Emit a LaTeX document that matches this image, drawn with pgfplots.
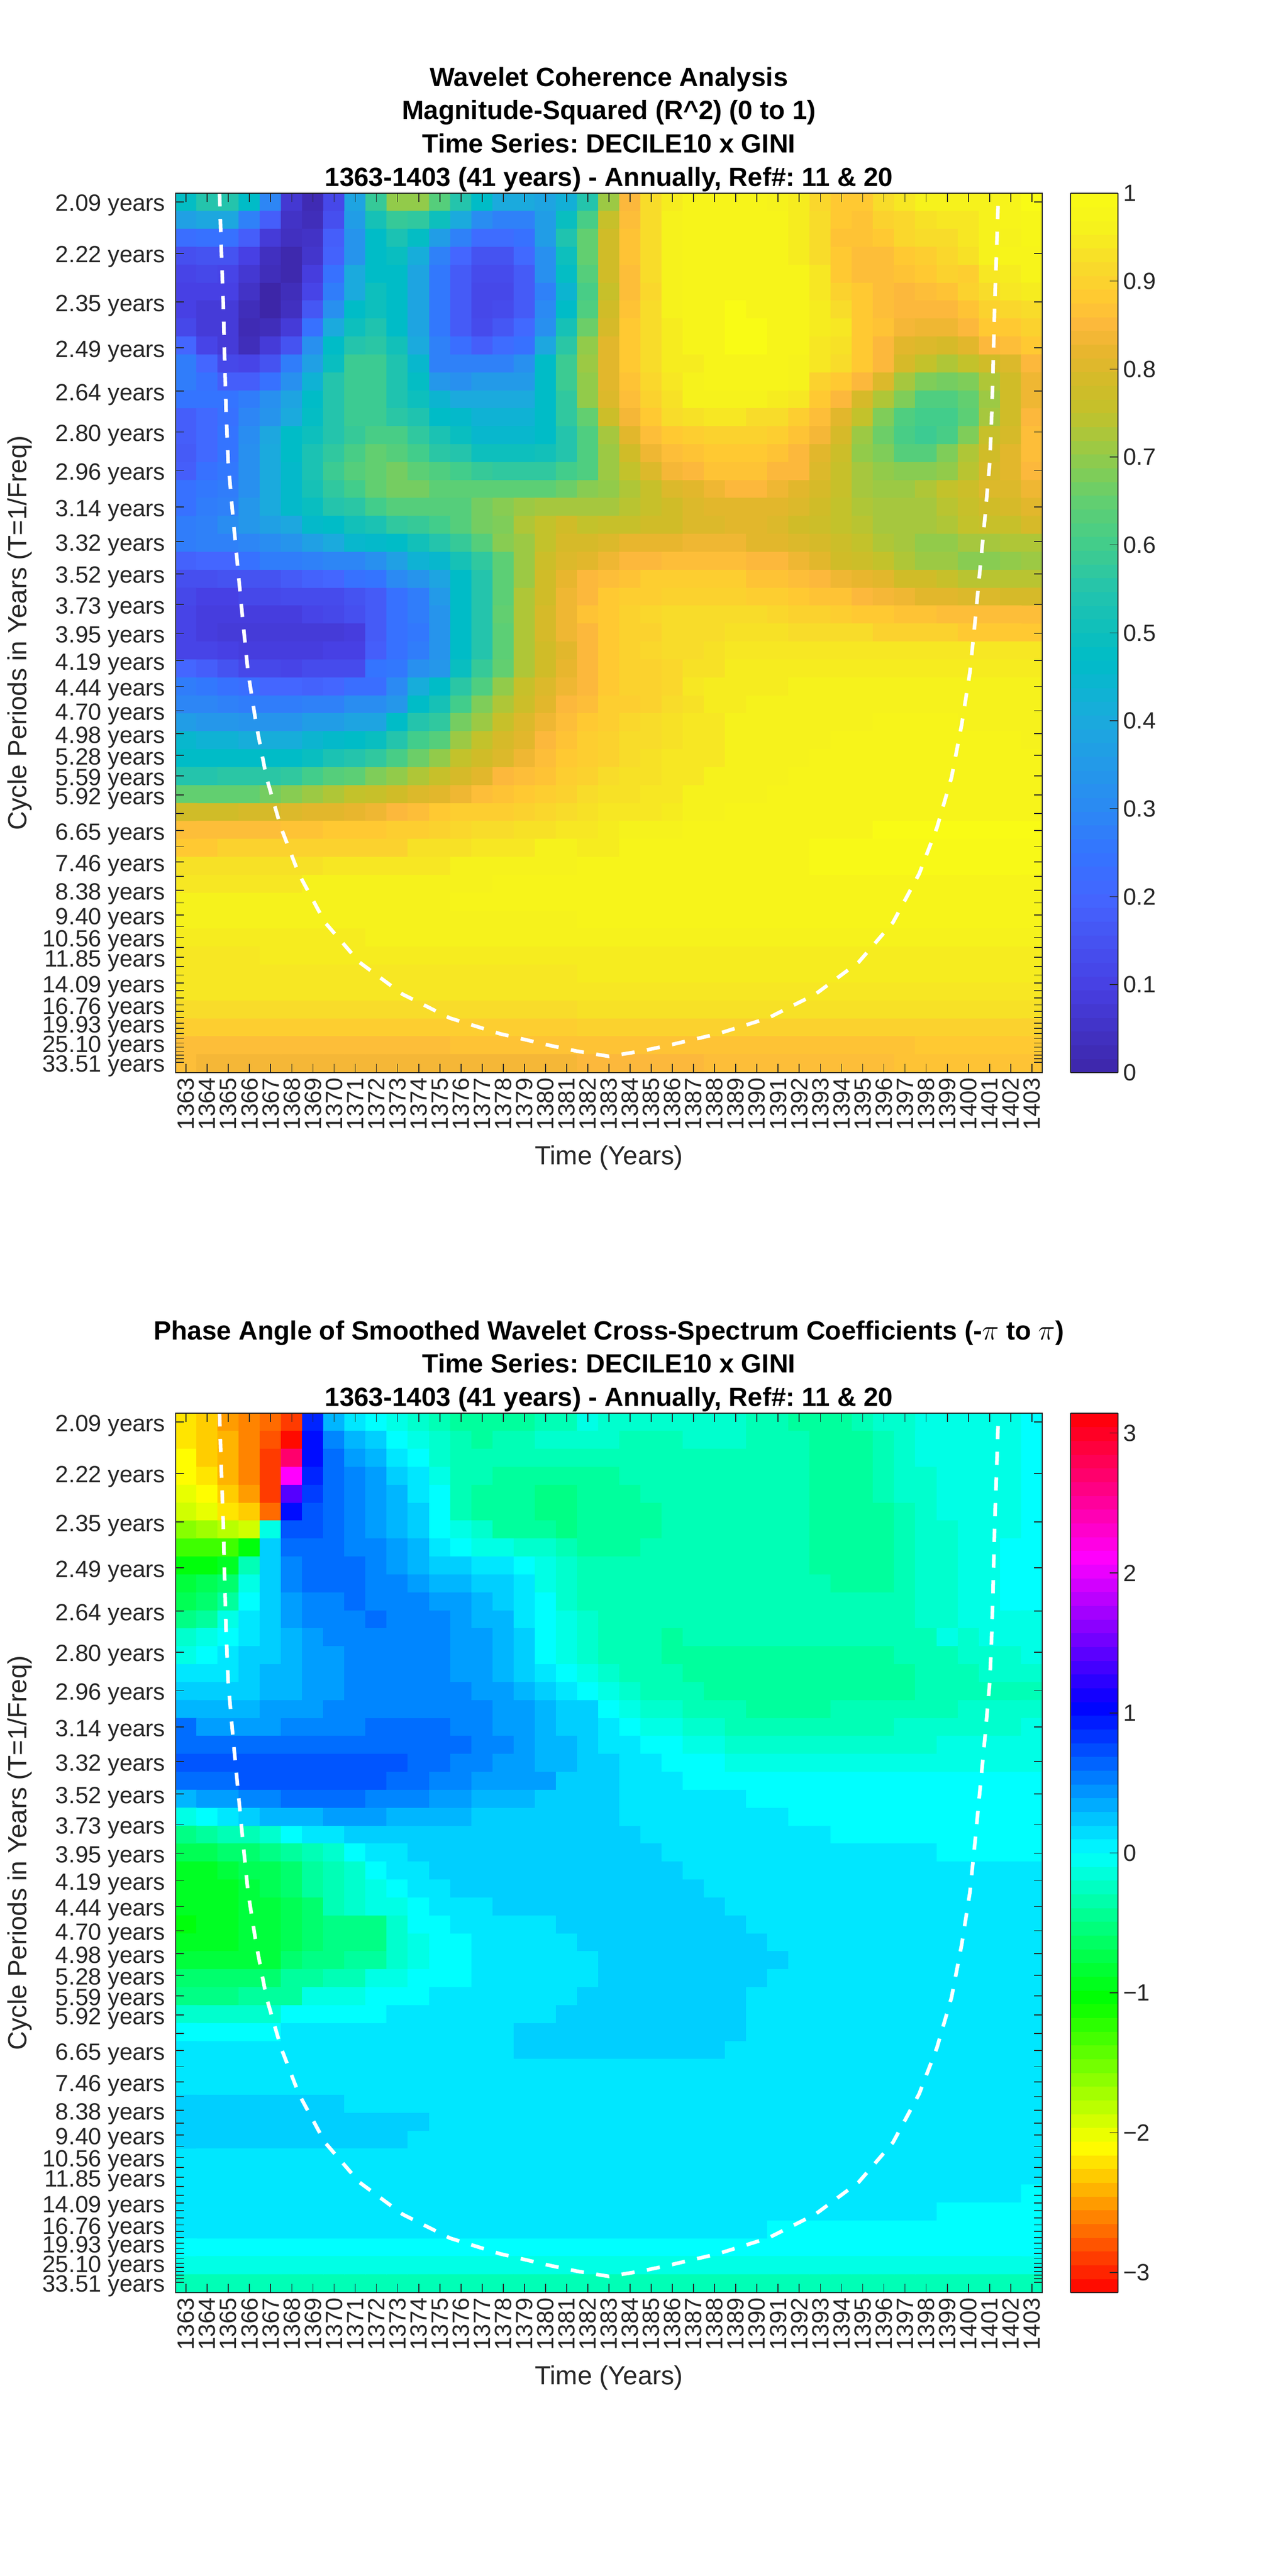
\documentclass[border=0pt]{standalone}
\usepackage{fontspec}
\setmainfont{Liberation Sans}
\usepackage{pgfplots}
\pgfplotsset{compat=1.18}
\definecolor{axc}{HTML}{262626}
\frenchspacing
\pgfplotsset{colormap={wc}{
rgb255(0pt)=(61,38,168) rgb255(10pt)=(71,64,228) rgb255(20pt)=(68,102,255) rgb255(25pt)=(52,116,255) rgb255(30pt)=(43,138,243) rgb255(40pt)=(27,170,221) rgb255(47pt)=(0,188,199) rgb255(55pt)=(36,196,172) rgb255(60pt)=(66,205,139) rgb255(65pt)=(98,207,112) rgb255(70pt)=(146,203,74) rgb255(75pt)=(195,194,43) rgb255(78pt)=(208,188,40) rgb255(82pt)=(232,182,46) rgb255(85pt)=(252,184,60) rgb255(88pt)=(255,201,50) rgb255(92pt)=(248,220,42) rgb255(96pt)=(246,242,28) rgb255(100pt)=(249,251,21)}}
\pgfplotsset{colormap={hsvx}{rgb255=(255,0,0) rgb255=(255,255,0) rgb255=(0,255,0) rgb255=(0,255,255) rgb255=(0,0,255) rgb255=(255,0,255) rgb255=(255,0,0)}}
\ExplSyntaxOn
\tl_new:N \g_m_tl
\tl_new:N \g_m_scale_tl
\tl_new:N \g_m_last_tl
\int_new:N \g_m_row_int
\int_new:N \g_m_col_int
\seq_new:N \l_m_seq
\cs_new_protected:Npn \m_add:n #1
 {
  \int_compare:nNnT { \g_m_col_int } < { 41 }
   {
    \int_gincr:N \g_m_col_int
    \tl_gset:Nn \g_m_last_tl { #1 }
    \tl_gput_right:Nx \g_m_tl
     { (\int_eval:n { 1362 + \g_m_col_int },\int_eval:n { 50 - \g_m_row_int })~[\fp_eval:n { (#1) * \g_m_scale_tl }]~ }
   }
 }
\cs_new_protected:Npn \m_split:w #1*#2*#3\q_stop
 {
  \tl_if_blank:nTF { #2 } { \m_add:n { #1 } } { \prg_replicate:nn { #2 } { \m_add:n { #1 } } }
 }
\NewDocumentCommand \MStart { m }
 { \tl_gclear:N \g_m_tl \tl_gset:Nn \g_m_scale_tl { #1 } \int_gzero:N \g_m_row_int }
\NewDocumentCommand \MEnd { m }
 { \tl_gset_eq:NN #1 \g_m_tl }
\NewDocumentCommand \R { m }
 {
  \int_gincr:N \g_m_row_int
  \int_gzero:N \g_m_col_int
  \seq_set_split:Nnn \l_m_seq { ~ } { #1 }
  \seq_map_inline:Nn \l_m_seq { \m_split:w ##1 ** \q_stop }
  \int_while_do:nNnn { \g_m_col_int } < { 41 } { \exp_args:NV \m_add:n \g_m_last_tl }
 }
\ExplSyntaxOff
% Magnitude-squared coherence, in hundredths, one line per row from the top
\MStart{0.01}
\R{48 55 55 47 29 7 2 12 38 58 70 70 63 55 47 40 40 38 42 55 71 85 92 95 97 97 97 97 96 95 91 88 88 92 94 96 96 96 96 97 100}
\R{37 39 39 28 18 5 3 14 36 52 58 57 50 40 31 28 28 36 49 61 76 86 92 96 97*5 95 92 88 87 90 91 93 94 94 96 97 98}
\R{23 24 24 18 8 4 5 18 33 47 53 48 36 28 22 22 24 36 54 65 78 87 92 96 97*5 95 92 87 87 88 91 92 92 94 96 96 98}
\R{14 15 15 10 4 1 6 19 33 47 49 41 28 20 15 15 21 32 50 65 78 87 92 96 97*5 95 92 88 86 86 88 89 91 93 96 97 97}
\R{11 12 11 7 3 1 9 24 40 47 47 38 26 17 13 13 17 32 48 63 78 86 92 96 97*6 94 88 86 86 87 88 90 89 94 95 97}
\R{10 10 10 5 0 3 11 27 40 50 47 38 26 17 12 12 17 28 44 61 76 86 91 96 97*6 94 90 88 86 85 86 87 90 92 94 95}
\R{10 8 8 3 0 4 16 32 47 50 47 38 26 17 12 13 17 30 47 62 78 87 92 96 97 97 100 97 97 97 95 92 88 86 85 85 85 87 90 91 92}
\R{12 8 8 2 3 8 24 40 50 54 47 38 26 17 13 16 21 32 52 66 79 88 92 95 97 97 100 100 97 97 95 94 88 87 84 83 83 85 88 88 90}
\R{20 11 8 3 8 15 32 47 55 56 51 40 28 23 18 22 24 39 56 70 81 88 92 95 97 97 100 100 97 97 94 93 88 85 81 80 79 81 85 86 88}
\R{27 20 12 11 15 27 37 49 59 59 54 45 28 28 28 28 32 47 59 71 81 88 92 95 95 97 97 97 97 96 94 92 88 85 79 75 73 75 78 80 85}
\R{27 24 18 18 24 32 43 55 59 59 54 48 34 32 35 35 35 47 59 70 81 87 91 94 96 97 97 97 97 96 90 88 85 80 72 68 67 68 73 78 83}
\R{25 25 25 27 32 38 47 55 59 59 54 50 44 40 40 40 40 47 57 70 80 86 90 93 96 96 96 96 95 94 88 85 79 73 68 62 62 65 71 78 83}
\R{18 21 24 29 33 40 48 55 59 59 56 54 47 46 43 43 43 47 57 65 77 84 88 92 93 94 94 92 92 89 86 81 75 68 62 60 60 64 72 78 85}
\R{18 21 25 31 39 47 50 55 58 61 61 57 53 49 45 45 45 47 55 62 72 81 86 88 89 90 90 90 89 87 84 79 71 66 61 59 61 68 76 79 86}
\R{17 21 25 32 40 47 53 57 61 65 63 60 56 55 50 50 50 51 55 62 71 78 83 86 87 88 88 88 87 85 81 77 70 68 63 63 68 73 78 81 86}
\R{18 24 26 32 40 46 53 59 63 65 67 64 62 60 58 57 57 57 60 62 71 75 80 84 85 87 87 87 85 85 80 76 72 70 69 69 70 74 79 81 85}
\R{24 26 27 32 40 46 52 57 60 65 67 67 64 64 64 64 64 64 66 69 70 73 76 80 81 83 85 85 83 81 79 76 72 71 71 73 75 77 80 80 83}
\R{24 27 28 34 40 46 49 55 56 60 63 63 63 63 67 69 71 72 72 72 72 74 76 78 80 81 81 81 81 80 78 75 73 72 72 72 74 76 78 79 81}
\R{27 28 31 34 37 39 46 47 51 53 57 58 60 63 67 68 73 75 78 75 76 76 78 78 80 80 81 81 80 78 77 75 74 72 72 72 73 75 76 76 79}
\R{27 28 28 29 31 33 37 40 45 46 47 51 55 58 63 69 71 75 79 79 80 82 82 82 83 83 83 81 81 80 79 77 75 73 72 70 70 72 72 73 73}
\R{19 20 20 24 27 27 28 29 29 32 37 43 45 52 57 64 71 77 80 81 83 85 85 86 86 86 86 85 85 83 81 78 77 75 73 71 71 69 69 70 71}
\R{14 14 15 15 15 17 19 20 24 25 30 33 38 47 55 64 71 78 82 85 86 87 89 89 89 89 89 87 87 86 85 83 82 81 78 78 76 74 74 74 74}
\R{12 10 10 12 12 13 13 13 15 17 24 27 35 47 55 64 73 78 83 85 88 89 89 90 90 90 90 89 89 88 87 87 85 84 83 81 81 80 80 79 79}
\R{11 9 9 9 9 9 11 12 14 17 24 27 33 47 55 65 73 79 83 87 88 90 91 92 92 92 92 92 91 90 90 89 88 88 87 87 86 86 86 86 86}
\R{11 9 8 8 8 8 8 8 9 17 24 26 33 47 55 64 73 79 83 85 88 90 90 92 92 92 93 93 93 92 92 92 92 90 90 90 90 88 88 88 88}
\R{11 11 10 9 9 9 9 10 10 18 24 27 33 47 55 64 73 78 81 85 88 90 91 92 92 93 94*15}
\R{20 18 15 12 12 11 13 13 13 25 26 32 34 49 58 65 73 78 82 85 88 90 90 91 93 93 95*15}
\R{27 26 24 23 20 20 19 20 23 23 30 41 47 56 62 70 76 80 83 85 88 90 90 91 94 95 95 95 95 96*12}
\R{29 29 28 27 27 27 28 28 31 31 34 47 52 60 68 73 77 81 85 86 89 89 90 92 93 95 95 96*14}
\R{36 34 34 33 33 33 36 36 38 38 47 55 57 67 71 76 80 83 86 88 89 91 92 93 94 94 96*7 97*4 96*4}
\R{45 43 43 41 41 41 44 46 47 49 55 60 63 71 75 79 81 85 87 89 90 92 92 93 94 94 96*5 97*9 96}
\R{47*6 49 53 55 57 61 66 70 75 78 80 83 86 88 89 90 92 93 94 94 94 96*4 97*11}
\R{55 55 56 56 56 57 60 63 64 68 70 73 76 79 81 85 86 87 89 90 92 93 93 94 94 96*4 97*12}
\R{65 65 65 65 67 69 71 73 75 76 78 80 81 83 86 87 88 89 90 92 93 93 94 94 96*4 97*13}
\R{78 78 78 79 79 80 81 81 82 83 85 86 88 89 89 89 90 91 92 93 94 94 94 95 96 96 97*15}
\R{86*5 87 87 88 88 88 89 89 90 91 92 92 93 93 94 94 95 96 96 96 97*9 100*8}
\R{88 88 90*9 93 93 93 94 94 94 96 96 95 95 97*9 99*11}
\R{93*7 94*6 96*6 97*11 99*11}
\R{94*6 96*9 97*26}
\R{96*13 97*28}
\R{96*19 97*22}
\R{95*9 96*32}
\R{94*4 95*37}
\R{94*19 95*22}
\R{94*41}
\R{92*19 93*22}
\R{89*19 90*22}
\R{86*13 87*22 88*6}
\R{86 84*18 85*6 86*9 87*7}
\MEnd\coordsA
% Phase angle, in tenths of a radian, one line per row from the top
\MStart{0.1}
\R{-22 -23 -25 -26 -27 -29 9 3 1 0 -1 -2 -3 -4 -4 -4 -4 -3 -3 -1 -2*7 -3 -3 -4 -4 -4 -3 -2 -2 -1*5 0}
\R{-22 -23 -24 -26 -28 -31 10 5 3 2 0 -1 -2 -3 -4 -3 -3 -2 -2 -2 -2 -3 -3 -3 -2 -2 -2 -3 -3 -3 -4 -4 -4 -3 -2 -1*5 0}
\R{-21 -23 -24 -26 -29 27 10 6 4 3 1 0 -2 -3 -3 -3 -3 -3 -3 -3*11 -4*3 -3 -2 -1*5 0}
\R{-21 -22 -24 -26 -29 21 9 6 5 4 2 1 -1 -3 -3 -4 -4 -4 -4 -4 -4 -3*9 -4*3 -3 -2 -2 -1*4 0}
\R{-20 -21 -23 -25 -29 14 8 6 5 4 3 1 0 -3 -4 -4 -4 -5 -5 -4*3 -3*8 -4*3 -3 -2 -2 -1*4 0}
\R{-19 -20 -22 -23 -27 10 7 6 5 4 3 2 0 -3 -4 -4 -4 -5 -5 -4*4 -3*7 -4*4 -3 -2 -1*4 0}
\R{-16 -17 -18 -19 -1 7 7 6 5 4 3 2 0 -1 -2 -4 -4 -4 -5 -4*4 -3*7 -4*4 -3 -2 -2 -1*3 0}
\R{-13 -13 -13 -10 2 6 6 6 5 5 4 3 1 0 -1 -1 -2 -2 -3 -4*3 -3*8 -4*4 -3 -2 -2 -1 -1 0 0}
\R{-10 -10 -9 -3 2 5 6 6 6 5 4 3 2 2 1 1 0 -1 -2 -3*11 -4*4 -3 -2 -2 -1 -1 0 0}
\R{-8 -7 -6 -1 2 5 6 6 6 5 5 4 3 3 2 2 1 -1 -2 -3*12 -4*3 -3 -2 -2 -1 -1 0 0}
\R{-7 -6 -4 0 2 4 5 5 6 5 5 5 4 4 3 2 1 0 -2 -3*16 -2 -2 -1 -1 0 0}
\R{-5 -4 -1 1 2 4 5 5 5 6 5 5 5 4 3 3 1 0 -1 -2 -3*15 -2 -2 -1*4}
\R{-2 -1 0 1 2 3 4 5 5 5 5 5 5 4 4 3 2 0 -1 -2 -3*3 -4 -3*12 -1 -2 -1*3}
\R{-1 0 1 2 2 3 4 4 5 5 5 5 5 4 4 3 2 0 -1 -2 -3*3 -4*11 -3*3 -2*3 -1}
\R{1 1 1 2 3 3 4 4 5 5 5 5 5 4 4 3 2 1 0 -1 -2 -3*3 -4*11 -3*3 -2*3}
\R{2 2 2 2 3 3 4 4 5 5 5 5 5 5 4 4 3 2 1 0 -1 -2 -3*3 -4*10 -3*6}
\R{3 3 3 3 4 4 4 5*8 4 4 3 2 2 0 -1 -2 -2 -3*3 -4*4 -3*6 -2*4}
\R{6 4 4 4 4 5 5 5 5 6 6 6 6 5 5 4 4 3 2 2 1 0 -1 -1 -2 -2 -3*8 -2*6 -1}
\R{6*14 5 5 4 3 3 2 1 1 0 0 -1 -1 -2*10 -1*5}
\R{7*11 6 6 5 5 4 4 3 3 2 2 1 1 0 0 0 -1*15}
\R{6 6 6 7*7 6 6 5 5 4 4 4 4 2 2 2 1 1 1 0*17}
\R{3 4 4 5 5 6 6 6 6 5 5 5 4 4 3 3 3 2 2 2 2 1*6 0*14}
\R{-1 0 1 2 3 3 3 4 4 4 3 3 3 3 2*5 2 2 1*8 0*12}
\R{-5 -4 -3 -3 -2 0 1 1 2*11 2 2 2 1*9 0*10}
\R{-7 -7 -6 -6 -5 -4 -3 -2 0 1 1 2*8 2*4 1*13 0*5}
\R{-9 -9 -8 -7 -7 -6 -4 -3 -2 0 1 1 2*7 2*5 1*17}
\R{-9 -9 -9 -8 -7 -6 -4 -3 -2 -1 0 1 1 2*6 2*6 1*16}
\R{-9 -9 -9 -8 -8 -7 -6 -3 -2 -1 -1 0 1 1 1 2*4 2*7 1*15}
\R{-10 -9 -9 -8 -8 -7 -6 -5 -5 -5 -2 0 0 1*5 2 2*8 1*14}
\R{-9 -9 -9 -8 -8 -7 -6 -5 -5 -5 -2 -1 0 0 1*5 2*9 1*13}
\R{-8 -8 -8 -8 -8 -6 -5 -5 -4 -4 -2 -1 0 0 1*5 1 2*9 1*12}
\R{-6*5 -4 -4 -3 -3 -1 -1 0 0 0 1*5 1 2*8 1*13}
\R{-5 -5 -5 -4 -4 -4 -1 -1 -1 0 0 0 1*7 2*8 1*14}
\R{-2*5 0*5 1*8 2 2*8 1*14}
\R{0*5 1*11 2*3 2*8 1*14}
\R{1*16 2*3 2*7 1*15}
\R{1*41}
\R{1*41}
\R{2*8 1*33}
\R{2*12 1*29}
\R{2*11 1*30}
\R{1*41}
\R{1*41}
\R{1*40 0}
\R{1*36 0*5}
\R{1*28 0*13}
\R{0*41}
\R{-1*41}
\R{-3*41}
\MEnd\coordsB
\newcommand\fs[1]{\fontsize{#1}{#1}\selectfont}
\pgfplotsset{
 panel/.style={
  scale only axis, width=526pt, height=533.5pt,
  xmin=1362.5, xmax=1403.5, ymin=0.5, ymax=49.5,
  enlargelimits=false, axis on top=true, tick align=inside, tick pos=both,
  xticklabel pos=lower, yticklabel pos=left,
  xtick distance=1, minor tick num=0,
  /pgf/number format/1000 sep={}, /pgf/number format/assume math mode=true,
  major tick length=5.25pt,
  axis line style={color=axc, line width=0.6pt},
  every tick/.style={color=axc, line width=0.55pt},
  xticklabel style={rotate=90, anchor=east, font=\fs{14.25}, color=axc, inner sep=0pt, xshift=-3pt},
  yticklabel style={font=\fs{14.25}, color=axc, anchor=east, inner sep=0pt, xshift=-6pt, yshift=-2.2pt},
  ytick={49.02,46.15,43.44,40.88,38.47,36.19,34.04,32.01,30.09,28.29,26.58,24.97,23.45,22.01,20.66,19.38,18.17,17.03,15.96,14.94,13.99,13.08,12.23,11.42,10.66,9.95,9.27,8.63,8.03,7.46,6.92,6.41,5.93,5.48,5.05,4.65,4.27,3.91,3.57,3.25,2.95,2.67,2.40,2.14,1.91,1.68,1.47,1.26,1.07},
  yticklabels={2.09 years,2.22 years,2.35 years,2.49 years,2.64 years,2.80 years,2.96 years,3.14 years,3.32 years,3.52 years,3.73 years,3.95 years,4.19 years,4.44 years,4.70 years,4.98 years,5.28 years,5.59 years,5.92 years,,6.65 years,,7.46 years,,8.38 years,,9.40 years,,10.56 years,,11.85 years,,,14.09 years,,,16.76 years,,,19.93 years,,,,25.10 years,,,,,33.51 years},
  xlabel={Time (Years)},
  xlabel style={at={(axis description cs:0.5,0)}, anchor=center, yshift=-51.75pt, font=\fs{15.9}, color=axc},
  ylabel={Cycle Periods in Years (T=1/Freq)},
  ylabel style={at={(axis description cs:0,0.5)}, anchor=center, yshift=94.5pt, font=\fs{15.9}, color=axc},
  title style={at={(axis description cs:0.5,1)}, anchor=south, yshift=-5.4pt, align=center, inner sep=0pt, font=\fontsize{16}{20.3}\selectfont\bfseries},
  colorbar sampled,
 },
 cbcommon/.style={
  at={(parent axis.north east)}, anchor=north west, xshift=8.5pt,
  scale only axis, width=28.75pt, height=533.5pt,
  samples=65, tick align=inside, major tick length=5pt,
  ytick pos=right, yticklabel pos=right,
  axis line style={color=axc, line width=0.6pt},
  every tick/.style={color=axc, line width=0.5pt},
  yticklabel style={font=\fs{14.25}, color=axc, anchor=west, inner sep=0pt, xshift=3pt},
  /pgf/number format/assume math mode=true,
 },
}
\newcommand\coiplot{\addplot[white, line width=2.2pt, dash pattern=on 8pt off 7.6pt, forget plot] coordinates {(1364.58,49.5)(1364.67,46.22)(1364.76,43.28)(1364.82,40.36)(1364.89,37.42)(1364.99,34.51)(1365.21,31.54)(1365.48,28.19)(1365.68,25.71)(1365.93,22.8)(1366.32,19.88)(1366.80,16.94)(1367.49,14.14)(1368.33,11.57)(1369.57,8.86)(1371.19,6.65)(1373.24,4.86)(1375.48,3.53)(1377.84,2.66)(1380.27,1.99)(1381.48,1.69)(1383,1.4)(1384.52,1.69)(1385.73,1.99)(1388.16,2.66)(1390.52,3.53)(1392.76,4.86)(1394.81,6.65)(1396.43,8.86)(1397.67,11.57)(1398.51,14.14)(1399.20,16.94)(1399.68,19.88)(1400.07,22.8)(1400.32,25.71)(1400.52,28.19)(1400.79,31.54)(1401.01,34.51)(1401.11,37.42)(1401.18,40.36)(1401.24,43.28)(1401.33,46.22)(1401.42,49.5)};}
\begin{document}
\begin{tikzpicture}[x=1pt,y=1pt]
\path[use as bounding box] (0,0) rectangle (781.25,1563);
\begin{axis}[panel, at={(106.5pt,912.25pt)}, anchor=south west,
  colormap name=wc, point meta min=0, point meta max=1,
  title={Wavelet Coherence Analysis\\Magnitude-Squared (R\textasciicircum 2) (0 to 1)\\Time Series: DECILE10 x GINI\\1363-1403 (41 years) - Annually, Ref\#: 11 \& 20},
  colorbar style={cbcommon, ytick={0,0.1,...,1}, yticklabels={0,0.1,0.2,0.3,0.4,0.5,0.6,0.7,0.8,0.9,1}}]
\edef\tmp{\noexpand\addplot[matrix plot*, mesh/cols=41, point meta=explicit] coordinates {\coordsA};}\tmp
\coiplot
\end{axis}
\begin{axis}[panel, at={(106.5pt,172pt)}, anchor=south west,
  colormap name=hsvx, point meta min=-3.14159, point meta max=3.14159,
  title={Phase Angle of Smoothed Wavelet Cross-Spectrum Coefficients (-$\pi$ to $\pi$)\\Time Series: DECILE10 x GINI\\1363-1403 (41 years) - Annually, Ref\#: 11 \& 20},
  colorbar style={cbcommon, ytick={-3,-2,-1,0,1,2,3}, yticklabels={−3,−2,−1,0,1,2,3}}]
\edef\tmp{\noexpand\addplot[matrix plot*, mesh/cols=41, point meta=explicit] coordinates {\coordsB};}\tmp
\coiplot
\end{axis}
\end{tikzpicture}
\end{document}
